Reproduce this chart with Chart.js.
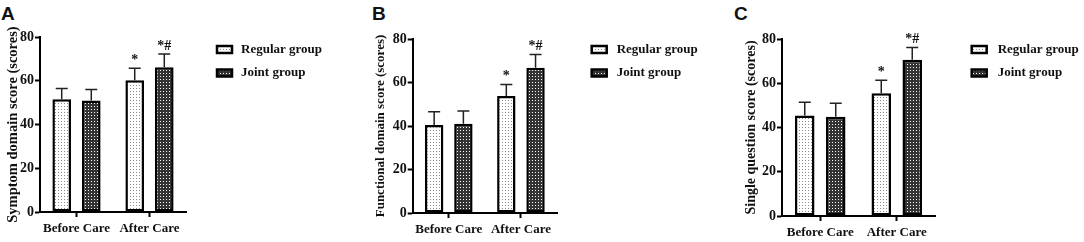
<!DOCTYPE html>
<html>
<head>
<meta charset="utf-8">
<script src="https://cdn.jsdelivr.net/npm/chart.js@4.4.0/dist/chart.umd.min.js"></script>
<style>
  body { margin: 0; background: #fff; width: 1084px; height: 242px; overflow: hidden; position: relative; }
  canvas { position: absolute; top: 0; }
  .letter { position: absolute; top: 3px; font: bold 19px "Liberation Sans", Arial, sans-serif; color: #111; }
</style>
</head>
<body>
<div class="letter" style="left:1px">A</div>
<div class="letter" style="left:372px">B</div>
<div class="letter" style="left:734px">C</div>
<canvas id="chartA" style="left:0px" width="360" height="242"></canvas>
<canvas id="chartB" style="left:360px" width="360" height="242"></canvas>
<canvas id="chartC" style="left:720px" width="364" height="242"></canvas>
<script>
// data
const categories = ['Before Care', 'After Care'];
const seriesNames = ['Regular group', 'Joint group'];
const yTicks = [0, 20, 40, 60, 80];

const symptomRegular = [51.5, 60.2];
const symptomRegularSd = [5.0, 5.5];
const symptomJoint = [51.0, 66.2];
const symptomJointSd = [5.0, 6.0];

const functionalRegular = [40.5, 53.8];
const functionalRegularSd = [6.0, 5.3];
const functionalJoint = [41.0, 66.8];
const functionalJointSd = [5.9, 6.1];

const singleRegular = [45.4, 55.5];
const singleRegularSd = [6.0, 5.9];
const singleJoint = [44.9, 70.6];
const singleJointSd = [6.1, 5.6];

const regularMarks = ['', '*'];
const jointMarks = ['', '*#'];

const serif = '"Liberation Serif", "Times New Roman", serif';

function makePattern(bg, dot, size) {
  const c = document.createElement('canvas');
  c.width = size; c.height = size;
  const g = c.getContext('2d');
  g.fillStyle = bg;
  g.fillRect(0, 0, size, size);
  g.fillStyle = dot;
  g.fillRect(1, 1, 1, 1);
  return g.createPattern(c, 'repeat');
}
const regularFill = makePattern('#ffffff', '#8c8c8c', 3);
const jointFill = makePattern('#333333', '#ffffff', 3);

// error bars, significance marks and legend
const extrasPlugin = {
  id: 'extras',
  afterDatasetsDraw(chart, args, opts) {
    const ctx = chart.ctx;
    const yScale = chart.scales.y;
    ctx.save();
    chart.data.datasets.forEach((ds, di) => {
      const meta = chart.getDatasetMeta(di);
      meta.data.forEach((bar, i) => {
        const top = yScale.getPixelForValue(ds.data[i] + ds.sd[i]);
        ctx.strokeStyle = '#222';
        ctx.lineWidth = 1.5;
        ctx.beginPath();
        ctx.moveTo(bar.x, bar.y);
        ctx.lineTo(bar.x, top);
        ctx.moveTo(bar.x - 6, top);
        ctx.lineTo(bar.x + 6, top);
        ctx.stroke();
        if (ds.marks[i]) {
          ctx.fillStyle = '#111';
          ctx.font = 'bold 14px ' + serif;
          ctx.textAlign = 'center';
          ctx.textBaseline = 'alphabetic';
          ctx.fillText(ds.marks[i], bar.x, top - 4);
        }
      });
    });
    // legend
    chart.data.datasets.forEach((ds, di) => {
      const cy = opts.legendY[di];
      ctx.fillStyle = ds.backgroundColor;
      ctx.fillRect(opts.boxX, cy - 3.5, 15, 7);
      ctx.strokeStyle = '#000';
      ctx.lineWidth = 2.5;
      ctx.strokeRect(opts.boxX, cy - 3.5, 15, 7);
      ctx.fillStyle = '#111';
      ctx.font = 'bold 13px ' + serif;
      ctx.textAlign = 'left';
      ctx.textBaseline = 'middle';
      ctx.fillText(ds.label, opts.textX, cy);
    });
    ctx.restore();
  }
};

function makePanel(id, title, titleSize, titleX, regular, regularSd, joint, jointSd, box) {
  const canvas = document.getElementById(id);
  const padLeft = titleX - titleSize * 0.6;
  return new Chart(canvas.getContext('2d'), {
    type: 'bar',
    data: {
      labels: categories,
      datasets: [{
        label: seriesNames[0],
        data: regular,
        sd: regularSd,
        marks: regularMarks,
        backgroundColor: regularFill,
        borderColor: '#000',
        borderWidth: 2.5,
        borderSkipped: false,
        categoryPercentage: 0.81,
        barPercentage: 0.63
      }, {
        label: seriesNames[1],
        data: joint,
        sd: jointSd,
        marks: jointMarks,
        backgroundColor: jointFill,
        borderColor: '#000',
        borderWidth: 2.5,
        borderSkipped: false,
        categoryPercentage: 0.81,
        barPercentage: 0.63
      }]
    },
    options: {
      responsive: false,
      animation: false,
      layout: {
        padding: { left: padLeft, top: box.top, right: canvas.width - box.right, bottom: 0 }
      },
      plugins: {
        legend: { display: false },
        tooltip: { enabled: false },
        extras: { boxX: box.boxX, textX: box.textX, legendY: [49.5, 73] }
      },
      scales: {
        x: {
          offset: true,
          grid: { display: true, drawOnChartArea: false, offset: false, tickLength: 5, tickWidth: 2, tickColor: '#000' },
          border: { color: '#000', width: 2 },
          ticks: {
            color: '#111',
            padding: 4,
            maxRotation: 0,
            minRotation: 0,
            autoSkip: false,
            font: { family: serif, size: 13, weight: 'bold' }
          },
          afterFit: (s) => { s.height = 242 - box.bottom; }
        },
        y: {
          min: 0,
          max: 80,
          afterBuildTicks: (s) => { s.ticks = yTicks.map(v => ({ value: v })); },
          grid: { drawOnChartArea: false, tickLength: 5, tickWidth: 2, tickColor: '#000' },
          border: { color: '#000', width: 2 },
          ticks: { color: '#111', padding: 1, font: { family: serif, size: 14, weight: 'bold' } },
          title: {
            display: true,
            text: title,
            color: '#111',
            padding: 0,
            font: { family: serif, size: titleSize, weight: 'bold' }
          },
          afterFit: (s) => { s.width = box.left - padLeft; }
        }
      }
    },
    plugins: [extrasPlugin]
  });
}

makePanel('chartA', 'Symptom domain score (scores)', 14.5, 13,
  symptomRegular, symptomRegularSd, symptomJoint, symptomJointSd,
  { left: 40, right: 186, top: 37, bottom: 212, boxX: 217, textX: 241 });
makePanel('chartB', 'Functional domain score (scores)', 13, 20.7,
  functionalRegular, functionalRegularSd, functionalJoint, functionalJointSd,
  { left: 52.7, right: 197, top: 39, bottom: 213, boxX: 231.7, textX: 256.7 });
makePanel('chartC', 'Single question score (scores)', 14, 31.7,
  singleRegular, singleRegularSd, singleJoint, singleJointSd,
  { left: 62, right: 215, top: 39, bottom: 216, boxX: 251.7, textX: 277.7 });
</script>
</body>
</html>
